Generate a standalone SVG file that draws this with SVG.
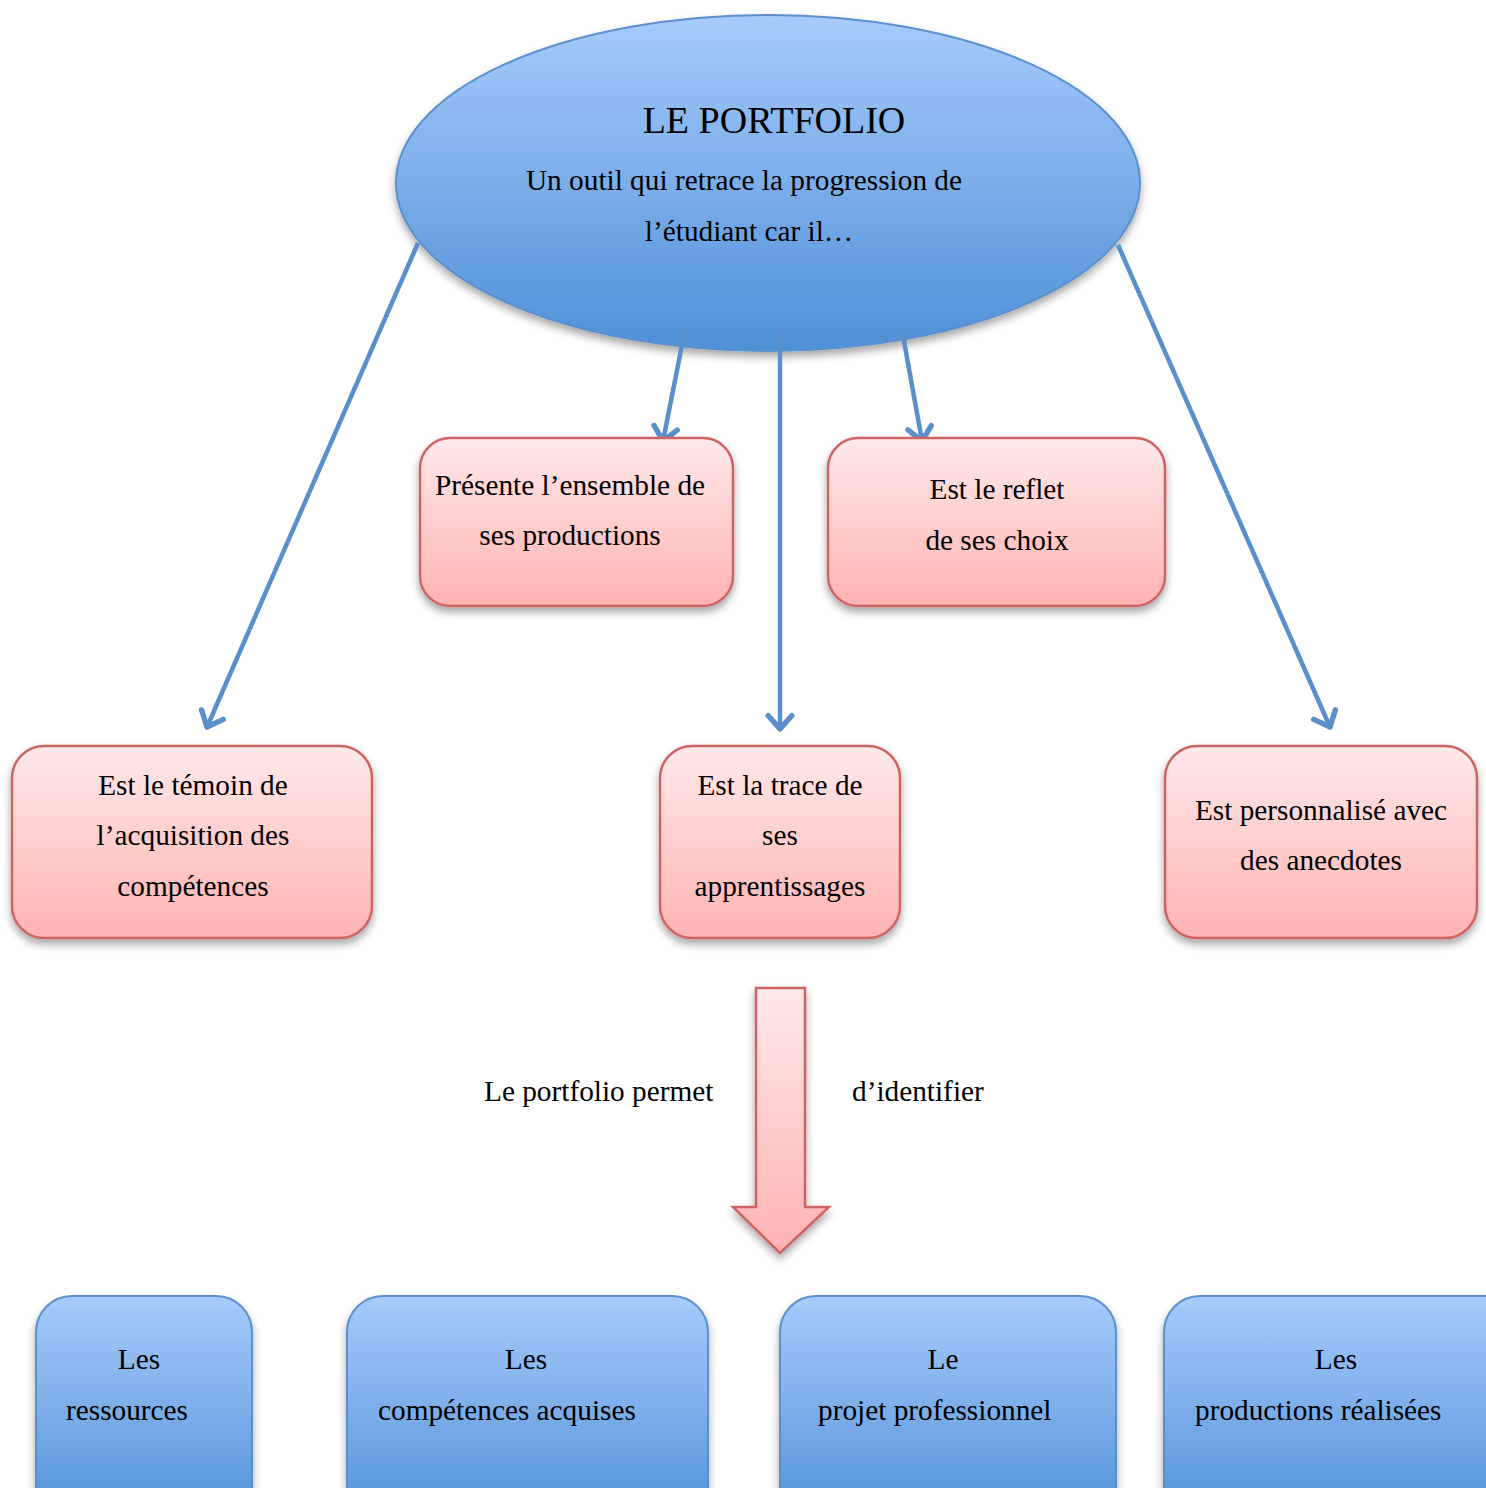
<svg xmlns="http://www.w3.org/2000/svg" width="1486" height="1488" viewBox="0 0 1486 1488">
  <defs>
    <linearGradient id="gBlue" x1="0" y1="0" x2="0" y2="1">
      <stop offset="0" stop-color="#a7cbfc"/>
      <stop offset="1" stop-color="#4f90d6"/>
    </linearGradient>
    <linearGradient id="gPink" x1="0" y1="0" x2="0" y2="1">
      <stop offset="0" stop-color="#ffe9ea"/>
      <stop offset="1" stop-color="#ffb3b1"/>
    </linearGradient>
    <filter id="shadow" x="-10%" y="-10%" width="120%" height="130%">
      <feDropShadow dx="0" dy="5" stdDeviation="4" flood-color="#000" flood-opacity="0.35"/>
    </filter>
    <marker id="chev" viewBox="0 0 20 20" refX="10" refY="10" markerWidth="7.5" markerHeight="7.5" markerUnits="strokeWidth" orient="auto">
      <path d="M2,3 L10,10 L2,17" fill="none" stroke="#5b8fcb" stroke-width="3.2" stroke-linecap="round" stroke-linejoin="round"/>
    </marker>
    <style>
      text { font-family: "Liberation Serif", "Times New Roman", serif; fill: #000; }
      .t28 { font-size: 29.3px; }
      .mid { text-anchor: middle; }
      .pink { fill: url(#gPink); stroke: #cf6463; stroke-width: 2.5; filter: url(#shadow); }
      .blue { fill: url(#gBlue); stroke: #5b8fcb; stroke-width: 2; filter: url(#shadow); }
      .conn { fill: none; stroke: #5b8fcb; stroke-width: 4.5; marker-end: url(#chev); }
    </style>
  </defs>

  <rect width="1486" height="1488" fill="#fff"/>

  <!-- central ellipse -->
  <g id="portfolio">
    <ellipse class="blue" cx="768" cy="183" rx="372" ry="168"/>
    <text class="mid" x="774" y="133" font-size="38">LE PORTFOLIO</text>
    <text class="mid t28" x="744" y="190">Un outil qui retrace la progression de</text>
    <text class="mid t28" x="749" y="241">l’étudiant car il…</text>
  </g>

  <!-- connectors from the ellipse -->
  <g id="connectors">
    <line class="conn" x1="418" y1="243" x2="207" y2="727"/>
    <line class="conn" x1="685" y1="330" x2="663" y2="441"/>
    <line class="conn" x1="780" y1="330" x2="780" y2="729"/>
    <line class="conn" x1="902" y1="330" x2="922" y2="441"/>
    <line class="conn" x1="1118" y1="245" x2="1330" y2="727"/>
  </g>

  <!-- first row -->
  <g id="productions">
    <rect class="pink" x="420" y="438" width="313" height="168" rx="30"/>
    <text class="mid t28" x="570" y="495">Présente l’ensemble de</text>
    <text class="mid t28" x="570" y="545">ses productions</text>
  </g>
  <g id="choix">
    <rect class="pink" x="828" y="438" width="337" height="168" rx="30"/>
    <text class="mid t28" x="997" y="499">Est le reflet</text>
    <text class="mid t28" x="997" y="550">de ses choix</text>
  </g>

  <!-- second row -->
  <g id="temoin">
    <rect class="pink" x="12" y="746" width="360" height="192" rx="32"/>
    <text class="mid t28" x="193" y="795">Est le témoin de</text>
    <text class="mid t28" x="193" y="845">l’acquisition des</text>
    <text class="mid t28" x="193" y="896">compétences</text>
  </g>
  <g id="trace">
    <rect class="pink" x="660" y="746" width="240" height="192" rx="32"/>
    <text class="mid t28" x="780" y="795">Est la trace de</text>
    <text class="mid t28" x="780" y="845">ses</text>
    <text class="mid t28" x="780" y="896">apprentissages</text>
  </g>
  <g id="anecdotes">
    <rect class="pink" x="1165" y="746" width="312" height="192" rx="32"/>
    <text class="mid t28" x="1321" y="820">Est personnalisé avec</text>
    <text class="mid t28" x="1321" y="870">des anecdotes</text>
  </g>

  <!-- block arrow -->
  <g id="permet">
    <path class="pink" d="M756,988 H805 V1207 H829 L780,1253 L733,1207 H756 Z" stroke-width="2"/>
    <text class="t28" x="484" y="1101">Le portfolio permet</text>
    <text class="t28" x="852" y="1101">d’identifier</text>
  </g>

  <!-- bottom row -->
  <g id="ressources">
    <rect class="blue" x="36" y="1296" width="216" height="230" rx="36"/>
    <text class="mid t28" x="139" y="1369">Les</text>
    <text class="t28" x="66" y="1420">ressources</text>
  </g>
  <g id="competences">
    <rect class="blue" x="347" y="1296" width="361" height="230" rx="36"/>
    <text class="mid t28" x="526" y="1369">Les</text>
    <text class="t28" x="378" y="1420">compétences acquises</text>
  </g>
  <g id="projet">
    <rect class="blue" x="780" y="1296" width="336" height="230" rx="36"/>
    <text class="mid t28" x="943" y="1369">Le</text>
    <text class="t28" x="818" y="1420">projet professionnel</text>
  </g>
  <g id="realisees">
    <rect class="blue" x="1164" y="1296" width="360" height="230" rx="36"/>
    <text class="mid t28" x="1336" y="1369">Les</text>
    <text class="t28" x="1195" y="1420">productions réalisées</text>
  </g>
</svg>
